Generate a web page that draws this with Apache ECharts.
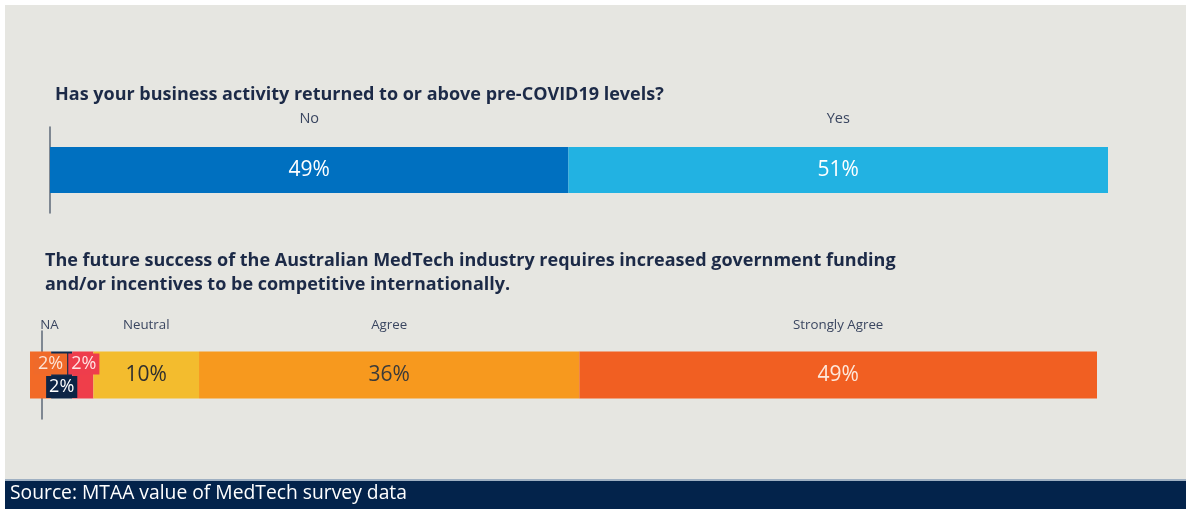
<!DOCTYPE html>
<html>
<head>
<meta charset="utf-8">
<script src="https://cdn.jsdelivr.net/npm/echarts@6/dist/echarts.min.js"></script>
<style>
html,body{margin:0;padding:0;background:#ffffff;}
#chart{width:1186px;height:509px;}
</style>
</head>
<body>
<div id="chart"></div>
<script>
// ---- data ----
const topTitle = 'Has your business activity returned to or above pre-COVID19 levels?';
const topCategories = ['No', 'Yes'];
const topValues = [49, 51];

const bottomTitle = 'The future success of the Australian MedTech industry requires increased government funding\nand/or incentives to be competitive internationally.';
const bottomCategories = ['NA', '', '', 'Neutral', 'Agree', 'Strongly Agree'];
const bottomValues = [2, 2, 2, 10, 36, 49];

const sourceText = 'Source: MTAA value of MedTech survey data';

// ---- styles ----
const FONT = '"Open Sans", "Noto Sans", sans-serif';
const topColors = ['#0070c0', '#22b2e2'];
const topLabelColors = ['#ffffff', '#ffffff'];
const bottomColors = ['#f26a27', '#0f2a4e', '#ef3e4a', '#f3bc2e', '#f7991e', '#f15f22'];
const bottomLabelStyles = [
  {color: '#fde3d4', backgroundColor: '#ef6a2a', fontSize: 18, offset: [10, -11], padding: [0, 4, 0, 4], lineHeight: 21},
  {color: '#ffffff', backgroundColor: '#0d2546', fontSize: 18, offset: [0, 12], padding: [0, 3, 0, 3], lineHeight: 22},
  {color: '#ffe3e3', backgroundColor: '#ee3d4c', fontSize: 18, offset: [1, -11], padding: [0, 3, 0, 3], lineHeight: 21},
  {color: '#2f2f2f', fontSize: 21},
  {color: '#3a3a3a', fontSize: 21},
  {color: '#fde8dc', fontSize: 21}
];
const nameOffsets = [[9, 0], [0, 0], [0, 0], [0, 0], [0, 0], [0, 0]];

const series = [];
topValues.forEach((v, i) => {
  series.push({
    type: 'bar', name: topCategories[i], xAxisIndex: 0, yAxisIndex: 0,
    stack: 'topVis', data: [v], barWidth: 46, barGap: '-100%',
    itemStyle: {color: topColors[i]},
    label: {show: true, position: 'inside', formatter: '{c}%', color: topLabelColors[i],
      fontFamily: FONT, fontSize: 21}
  });
});
topValues.forEach((v, i) => {
  series.push({
    type: 'bar', name: topCategories[i] + ' name', xAxisIndex: 0, yAxisIndex: 0,
    stack: 'topName', data: [v], barWidth: 46, barGap: '-100%', silent: true,
    itemStyle: {color: 'rgba(0,0,0,0)'},
    label: {show: true, position: 'top', distance: 21, formatter: topCategories[i],
      color: '#3a4660', fontFamily: FONT, fontSize: 14.5}
  });
});
bottomValues.forEach((v, i) => {
  const ls = bottomLabelStyles[i];
  series.push({
    type: 'bar', name: bottomCategories[i] || ('seg' + i), xAxisIndex: 1, yAxisIndex: 1,
    stack: 'botVis', data: [v], barWidth: 47, barGap: '-100%',
    itemStyle: {color: bottomColors[i]},
    label: Object.assign({show: true, position: 'inside', formatter: '{c}%', fontFamily: FONT}, ls)
  });
});
bottomValues.forEach((v, i) => {
  series.push({
    type: 'bar', name: 'name' + i, xAxisIndex: 1, yAxisIndex: 1,
    stack: 'botName', data: [v], barWidth: 47, barGap: '-100%', silent: true,
    itemStyle: {color: 'rgba(0,0,0,0)'},
    label: {show: bottomCategories[i] !== '', position: 'top', distance: 20, offset: nameOffsets[i],
      formatter: bottomCategories[i], color: '#3a4660', fontFamily: FONT, fontSize: 13.3}
  });
});

const chart = echarts.init(document.getElementById('chart'));
chart.setOption({
  backgroundColor: '#ffffff',
  animation: false,
  graphic: [
    {type: 'rect', left: 5, top: 5, z: -10, shape: {width: 1181, height: 475}, style: {fill: '#e6e6e1'}},
    {type: 'rect', left: 5, top: 479, z: -9, shape: {width: 1181, height: 2}, style: {fill: '#9fb0c2'}},
    {type: 'rect', left: 5, top: 481, z: -9, shape: {width: 1181, height: 28}, style: {fill: '#03234b'}},
    {type: 'text', left: 10, top: 484, z: 10, style: {text: sourceText, fill: '#ffffff', font: '19.3px ' + FONT}}
  ],
  title: [
    {text: topTitle, left: 50, top: 81, textStyle: {color: '#1c2a47', fontFamily: FONT, fontSize: 18, fontWeight: 'bold'}},
    {text: bottomTitle, left: 40, top: 244, textStyle: {color: '#1c2a47', fontFamily: FONT, fontSize: 18, fontWeight: 'bold', lineHeight: 24}}
  ],
  grid: [
    {left: 50, right: 78, top: 127, height: 86},
    {left: 30, right: 89, top: 331, height: 88}
  ],
  xAxis: [
    {type: 'value', gridIndex: 0, min: 0, max: 100, show: false},
    {type: 'value', gridIndex: 1, min: 0, max: 101, show: false}
  ],
  yAxis: [
    {type: 'category', gridIndex: 0, data: [''], axisTick: {show: false}, axisLabel: {show: false},
      axisLine: {show: true, lineStyle: {color: '#5d6877', width: 1.5}}},
    {type: 'category', gridIndex: 1, data: [''], offset: -12, axisTick: {show: false}, axisLabel: {show: false},
      axisLine: {show: true, lineStyle: {color: '#5d6877', width: 1.5}}}
  ],
  series: series
});
</script>
</body>
</html>
